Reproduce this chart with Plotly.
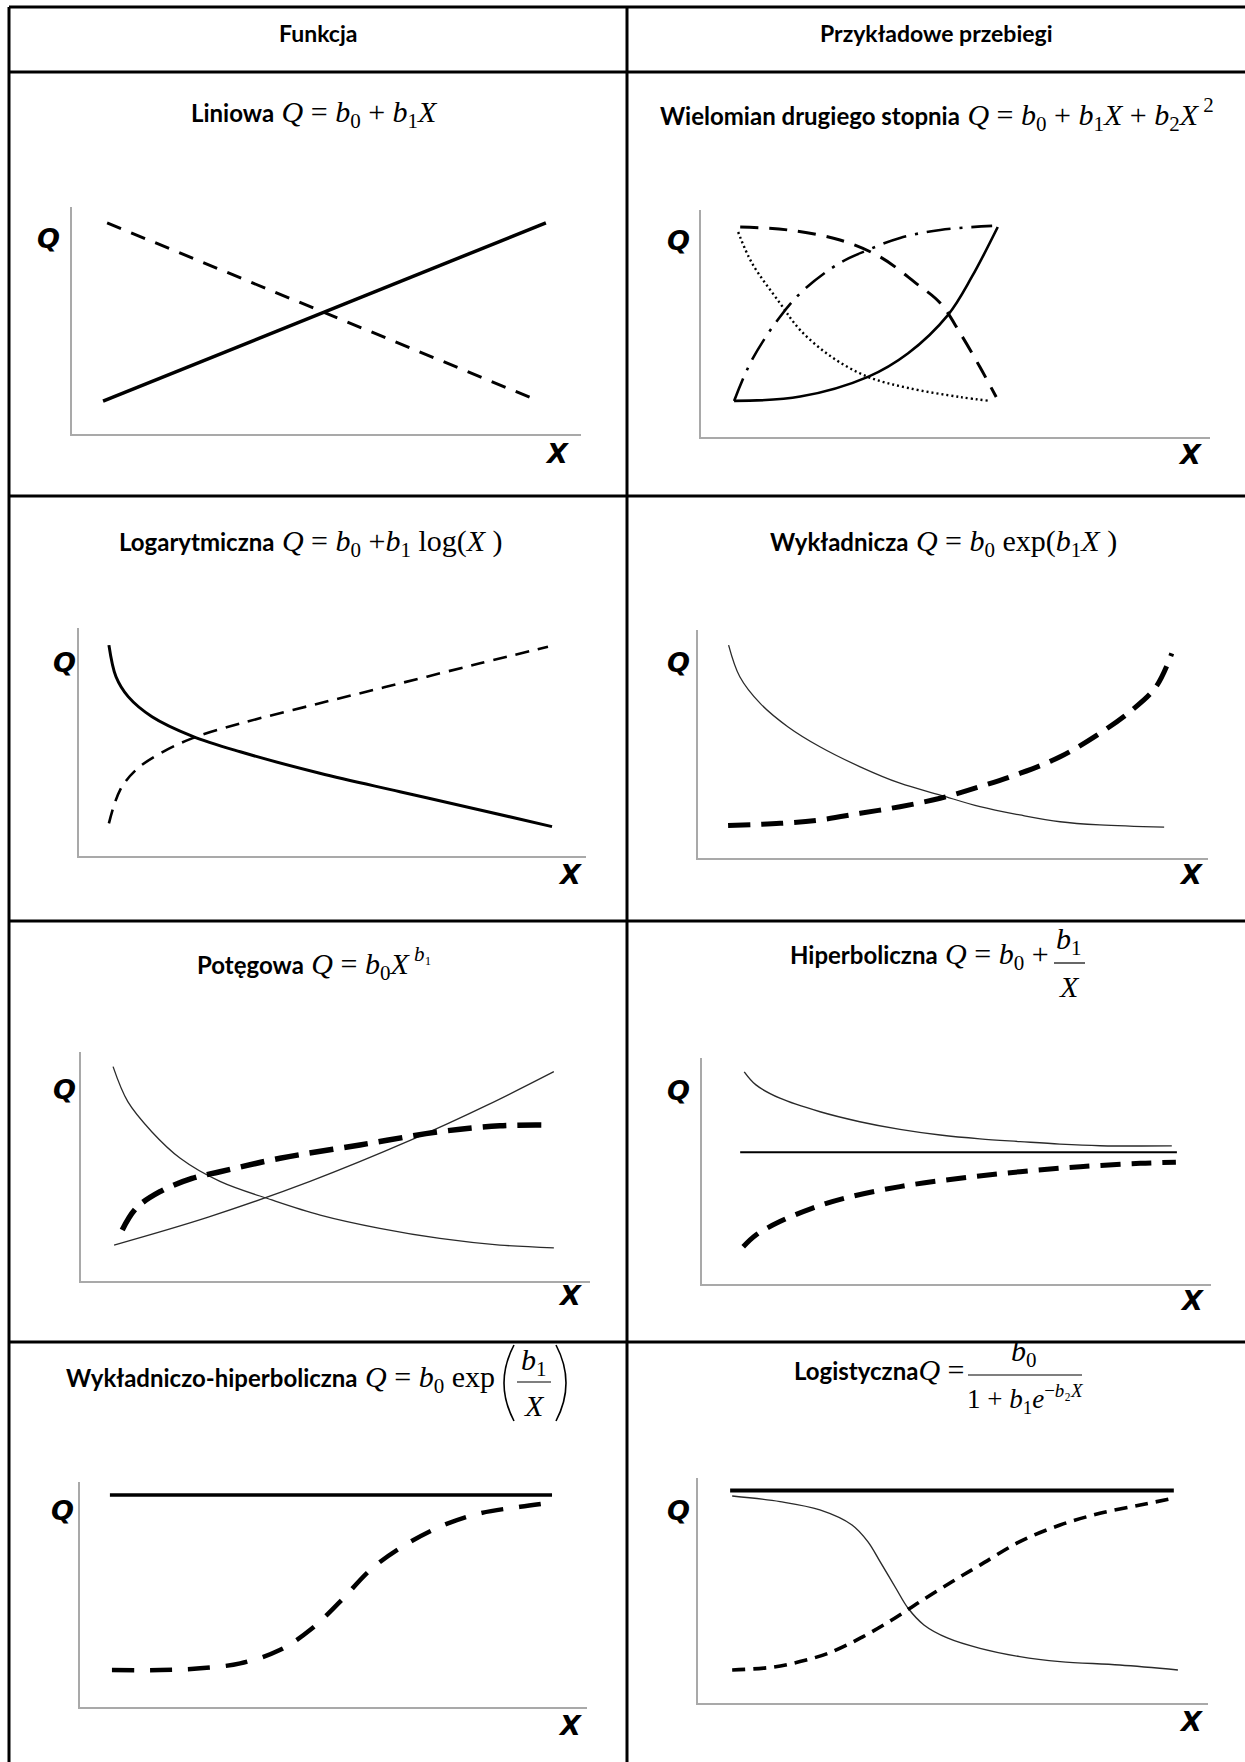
import plotly.graph_objects as go

W, H = 1245, 1762

# ---------------- curve values (each panel uses its own 0-10 units) ----------------
# 1. Liniowa
lin_up_x = [0.61, 9.31]
lin_up_y = [1.45, 9.30]
lin_down_x = [0.69, 9.12]
lin_down_y = [9.30, 1.50]

# 2. Wielomian drugiego stopnia
poly_solid_x = [0.65, 1.95, 3.28, 4.07, 4.85, 5.32, 5.83]
poly_solid_y = [1.59, 1.78, 2.65, 3.69, 5.37, 7.05, 9.25]
poly_dash_x = [0.77, 1.71, 2.73, 3.52, 4.22, 4.70, 5.09, 5.48, 5.80]
poly_dash_y = [9.25, 9.12, 8.68, 7.93, 6.78, 5.90, 4.58, 3.08, 1.76]
poly_dashdot_x = [0.65, 1.00, 1.55, 2.02, 2.73, 3.28, 3.91, 4.70, 5.72]
poly_dashdot_y = [1.59, 3.39, 5.29, 6.48, 7.67, 8.24, 8.77, 9.12, 9.30]
poly_dot_x = [0.73, 1.00, 1.55, 1.95, 2.57, 3.28, 4.07, 5.09, 5.68]
poly_dot_y = [9.03, 7.67, 5.90, 4.71, 3.52, 2.65, 2.16, 1.76, 1.59]

# 3. Logarytmiczna
log_solid_x = [0.59, 0.73, 0.97, 1.44, 2.23, 3.18, 4.75, 6.33, 7.91, 9.33]
log_solid_y = [9.25, 7.86, 6.99, 6.11, 5.26, 4.57, 3.63, 2.82, 2.02, 1.29]
log_dash_x = [0.59, 0.81, 1.12, 1.60, 2.23, 3.18, 4.75, 6.33, 7.91, 9.25]
log_dash_y = [1.43, 2.89, 3.77, 4.50, 5.16, 5.81, 6.70, 7.57, 8.45, 9.18]

# 4. Wykładnicza
exp_dec_x = [0.60, 0.82, 1.22, 1.76, 2.39, 3.18, 3.96, 4.75, 5.53, 6.31, 7.10, 7.88, 9.14]
exp_dec_y = [9.34, 7.95, 6.78, 5.76, 4.88, 4.00, 3.28, 2.76, 2.25, 1.89, 1.59, 1.45, 1.35]
exp_inc_x = [0.59, 1.61, 2.39, 3.18, 3.96, 4.75, 5.53, 6.31, 7.10, 7.88, 8.51, 8.98, 9.29]
exp_inc_y = [1.42, 1.52, 1.67, 1.96, 2.25, 2.62, 3.13, 3.71, 4.44, 5.47, 6.49, 7.51, 8.98]

# 5. Potęgowa
pow_dec_x = [0.63, 0.92, 1.39, 1.95, 2.73, 3.75, 4.70, 5.87, 7.05, 8.23, 9.29]
pow_dec_y = [9.36, 7.83, 6.52, 5.36, 4.35, 3.54, 2.88, 2.30, 1.86, 1.57, 1.45]
pow_inc_x = [0.65, 2.50, 4.50, 6.50, 8.00, 9.29]
pow_inc_y = [1.57, 2.79, 4.35, 6.17, 7.70, 9.14]
pow_dash_x = [0.81, 1.08, 1.55, 2.18, 2.73, 3.91, 5.48, 7.05, 8.23, 9.21]
pow_dash_y = [2.23, 3.17, 3.90, 4.48, 4.77, 5.36, 5.94, 6.52, 6.78, 6.81]

# 6. Hiperboliczna
hyp_dec_x = [0.83, 1.06, 1.53, 2.32, 3.10, 3.89, 4.68, 5.46, 6.25, 7.03, 7.82, 9.23]
hyp_dec_y = [9.39, 8.81, 8.22, 7.62, 7.18, 6.84, 6.59, 6.42, 6.30, 6.19, 6.12, 6.11]
hyp_asym_x = [0.75, 9.33]
hyp_asym_y = [5.83, 5.83]
hyp_inc_x = [0.81, 1.06, 1.53, 2.16, 2.79, 3.89, 5.07, 6.25, 7.43, 8.61, 9.31]
hyp_inc_y = [1.65, 2.17, 2.76, 3.35, 3.79, 4.31, 4.68, 4.97, 5.19, 5.34, 5.39]

# 7. Wykładniczo-hiperboliczna
eh_asym_x = [0.59, 9.31]
eh_asym_y = [9.42, 9.42]
eh_curve_x = [0.63, 1.58, 2.37, 3.16, 3.94, 4.58, 5.13, 5.76, 6.47, 7.18, 7.89, 8.68, 9.27]
eh_curve_y = [1.64, 1.64, 1.72, 1.94, 2.53, 3.50, 4.68, 6.16, 7.28, 8.09, 8.61, 8.90, 9.08]

# 8. Logistyczna
lg_asym_x = [0.63, 9.33]
lg_asym_y = [9.44, 9.44]
lg_dec_x = [0.67, 1.61, 2.39, 3.02, 3.33, 3.57, 3.88, 4.12, 4.43, 4.90, 5.53, 6.31, 7.10, 8.27, 9.41]
lg_dec_y = [9.20, 8.95, 8.58, 7.91, 7.17, 6.28, 5.10, 4.21, 3.47, 2.88, 2.43, 2.06, 1.84, 1.69, 1.47]
lg_inc_x = [0.67, 1.45, 2.00, 2.55, 3.18, 3.80, 4.35, 4.98, 5.53, 6.31, 7.10, 7.88, 8.67, 9.33]
lg_inc_y = [1.47, 1.59, 1.84, 2.21, 2.88, 3.69, 4.50, 5.39, 6.13, 7.17, 7.91, 8.43, 8.80, 9.10]

# ---------------- texts ----------------
header_left = "Funkcja"
header_right = "Przykładowe przebiegi"

# ---------------- layout helpers ----------------
def px(x):
    return x / W


def py(y):
    return 1 - y / H


LABEL_FONT = "Lato"
MATH_FONT = "Liberation Serif"
AXIS_FONT = "DejaVu Sans"
AXIS_GREY = "#a9a9a9"
MATH_SIZE = 30


def lbl(name):
    return f"<span style='font-family:{LABEL_FONT};font-size:24px'><b>{name}</b></span>"


# panel frames: left, right, top, bottom (pixels)
panels = [
    (72, 581, 207, 434),
    (701, 1210, 210, 437),
    (79, 586, 628, 856),
    (698, 1208, 630, 858),
    (81, 590, 1052, 1281),
    (702, 1211, 1058, 1284),
    (80, 587, 1482, 1707),
    (698, 1208, 1478, 1703),
]
q_pos = [(48, 239), (678, 240), (64, 662), (678, 662), (64, 1089), (678, 1090), (62, 1510), (678, 1510)]
x_pos = [(557, 453), (1190, 455), (570, 874), (1191, 875), (570, 1295), (1192, 1300), (570, 1725), (1191, 1721)]

fig = go.Figure()
layout = dict(
    width=W, height=H,
    margin=dict(l=0, r=0, t=0, b=0),
    paper_bgcolor="white", plot_bgcolor="white",
    showlegend=False,
)

for i, (l, r, t, b) in enumerate(panels):
    k = "" if i == 0 else str(i + 1)
    layout["xaxis" + k] = dict(
        domain=[px(l), px(r)], range=[0, 10], anchor="y" + k,
        showline=True, linecolor=AXIS_GREY, linewidth=2,
        showgrid=False, zeroline=False, showticklabels=False, ticks="",
        fixedrange=True,
    )
    layout["yaxis" + k] = dict(
        domain=[py(b), py(t)], range=[0, 10], anchor="x" + k,
        showline=True, linecolor=AXIS_GREY, linewidth=2,
        showgrid=False, zeroline=False, showticklabels=False, ticks="",
        fixedrange=True,
    )

fig.update_layout(**layout)


def curve(panel, xs, ys, width, dash="solid", color="#000000", smooth=True):
    k = "" if panel == 0 else str(panel + 1)
    fig.add_trace(go.Scatter(
        x=xs, y=ys, mode="lines", xaxis="x" + k, yaxis="y" + k,
        line=dict(color=color, width=width, dash=dash,
                  shape="spline" if smooth else "linear", smoothing=1.0),
        hoverinfo="skip",
    ))


THIN = "#2a2a2a"

curve(0, lin_up_x, lin_up_y, 3.5, smooth=False)
curve(0, lin_down_x, lin_down_y, 3, "15px,11px", smooth=False)

curve(1, poly_solid_x, poly_solid_y, 2.6)
curve(1, poly_dash_x, poly_dash_y, 3, "18px,11px")
curve(1, poly_dashdot_x, poly_dashdot_y, 2.6, "24px,9px,3px,9px")
curve(1, poly_dot_x, poly_dot_y, 2.4, "2px,3px")

curve(2, log_solid_x, log_solid_y, 3)
curve(2, log_dash_x, log_dash_y, 2.6, "14px,9px")

curve(3, exp_dec_x, exp_dec_y, 1.3, color=THIN)
curve(3, exp_inc_x, exp_inc_y, 5, "22px,11px")

curve(4, pow_dec_x, pow_dec_y, 1.3, color=THIN)
curve(4, pow_inc_x, pow_inc_y, 1.3, color=THIN)
curve(4, pow_dash_x, pow_dash_y, 5.5, "24px,11px")

curve(5, hyp_dec_x, hyp_dec_y, 1.4, color=THIN)
curve(5, hyp_asym_x, hyp_asym_y, 2, smooth=False)
curve(5, hyp_inc_x, hyp_inc_y, 5, "20px,11px")

curve(6, eh_asym_x, eh_asym_y, 3.5, smooth=False)
curve(6, eh_curve_x, eh_curve_y, 4.5, "22px,16px")

curve(7, lg_asym_x, lg_asym_y, 4, smooth=False)
curve(7, lg_dec_x, lg_dec_y, 1.4, color=THIN)
curve(7, lg_inc_x, lg_inc_y, 3.6, "13px,8px")

# ---------------- table grid ----------------
shapes = []


def hline(y, x0=9, x1=W, w=3):
    shapes.append(dict(type="line", xref="paper", yref="paper",
                       x0=px(x0), x1=px(x1), y0=py(y), y1=py(y),
                       line=dict(color="black", width=w)))


def vline(x, y0=7, y1=H, w=3):
    shapes.append(dict(type="line", xref="paper", yref="paper",
                       x0=px(x), x1=px(x), y0=py(y0), y1=py(y1),
                       line=dict(color="black", width=w)))


for yy in (7, 72, 496, 921, 1342):
    hline(yy)
vline(9)
vline(627)


# fraction bars and tall brackets in the formulas
def bar(x0, x1, y):
    shapes.append(dict(type="line", xref="paper", yref="paper",
                       x0=px(x0), x1=px(x1), y0=py(y), y1=py(y),
                       line=dict(color="black", width=1.2)))


def bracket(x_end, x_ctrl, y_top, y_bot):
    ym = (y_top + y_bot) / 2
    path = (f"M {px(x_end)},{py(y_top)} "
            f"Q {px(x_ctrl)},{py(ym)} {px(x_end)},{py(y_bot)}")
    shapes.append(dict(type="path", xref="paper", yref="paper", path=path,
                       line=dict(color="black", width=1.6)))


bar(1054, 1085, 963)
bar(517, 551, 1382)
bar(968, 1082, 1375)
bracket(514, 494, 1345, 1421)
bracket(556, 576, 1345, 1421)

fig.update_layout(shapes=shapes)

# ---------------- annotations ----------------
ann = []


def text(x, y, s, size=MATH_SIZE, family=MATH_FONT, xanchor="center", color="black"):
    ann.append(dict(x=px(x), y=py(y), xref="paper", yref="paper", text=s,
                    showarrow=False, xanchor=xanchor, yanchor="middle",
                    font=dict(family=family, size=size, color=color)))


text(318, 33, f"<b>{header_left}</b>", size=23, family=LABEL_FONT)
text(936, 33, f"<b>{header_right}</b>", size=23, family=LABEL_FONT)

text(314, 114, lbl("Liniowa") + " <i>Q</i> = <i>b</i><sub>0</sub> + <i>b</i><sub>1</sub><i>X</i>")
text(937, 114, lbl("Wielomian drugiego stopnia")
     + " <i>Q</i> = <i>b</i><sub>0</sub> + <i>b</i><sub>1</sub><i>X</i> + <i>b</i><sub>2</sub><i>X</i><sup> 2</sup>")
text(311, 543, lbl("Logarytmiczna") + " <i>Q</i> = <i>b</i><sub>0</sub> +<i>b</i><sub>1</sub> log(<i>X</i> )")
text(943, 543, lbl("Wykładnicza") + " <i>Q</i> = <i>b</i><sub>0</sub> exp(<i>b</i><sub>1</sub><i>X</i> )")
text(314, 963, lbl("Potęgowa") + " <i>Q</i> = <i>b</i><sub>0</sub><i>X</i><sup> <i>b</i>₁</sup>")

# Hiperboliczna with a stacked fraction
text(1051, 956, lbl("Hiperboliczna") + " <i>Q</i> = <i>b</i><sub>0</sub> +", xanchor="right")
text(1069, 941, "<i>b</i><sub>1</sub>")
text(1069, 986, "<i>X</i>")

# Wykładniczo-hiperboliczna
text(497, 1379, lbl("Wykładniczo-hiperboliczna") + " <i>Q</i> = <i>b</i><sub>0</sub> exp", xanchor="right")
text(534, 1362, "<i>b</i><sub>1</sub>")
text(534, 1405, "<i>X</i>")

# Logistyczna
text(966, 1369, lbl("Logistyczna") + "<i>Q</i> =", xanchor="right")
text(1024, 1353, "<i>b</i><sub>0</sub>")
text(1025, 1399, "1 + <i>b</i><sub>1</sub><i>e</i><sup>−<i>b</i>₂<i>X</i></sup>", size=27)

# axis letters
for (qx, qy) in q_pos:
    text(qx, qy, "<b><i>Q</i></b>", size=27, family=AXIS_FONT)
for (xx, xy) in x_pos:
    text(xx, xy, "<b><i>X</i></b>", size=27, family=AXIS_FONT)

fig.update_layout(annotations=ann)

fig.write_html("out.html")
